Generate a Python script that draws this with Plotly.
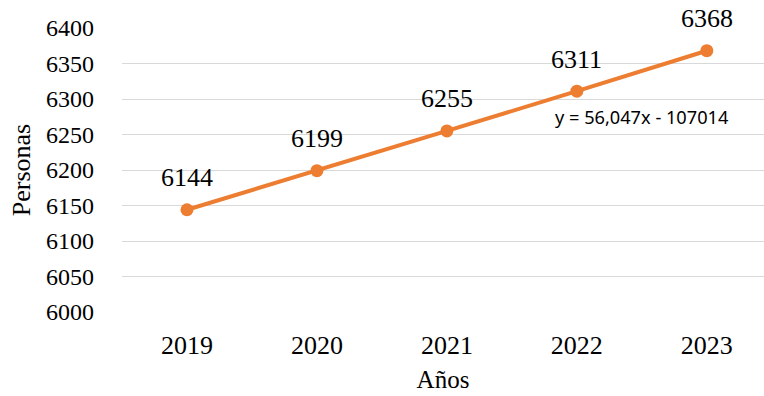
import plotly.graph_objects as go

# Población por año
years = ["2019", "2020", "2021", "2022", "2023"]
population = [6144, 6199, 6255, 6311, 6368]
y_ticks = [6000, 6050, 6100, 6150, 6200, 6250, 6300, 6350, 6400]
trend_label = "y = 56,047x - 107014"

ORANGE = "#ED7D31"
SERIF = "Times New Roman, Liberation Serif, serif"

fig = go.Figure()
fig.add_trace(go.Scatter(
    x=list(range(len(years))),
    y=population,
    mode="lines+markers",
    line=dict(color=ORANGE, width=4),
    marker=dict(color=ORANGE, size=13),
    hoverinfo="skip",
    showlegend=False,
))

# value labels above each point
for i, v in enumerate(population):
    fig.add_annotation(
        x=i, y=v, text=str(v), showarrow=False, yshift=32,
        font=dict(family=SERIF, size=26, color="#000000"),
    )

# trend line equation
fig.add_annotation(
    x=3.5, y=6274, text=trend_label, showarrow=False,
    font=dict(family="Noto Sans, Open Sans, sans-serif", size=18.2, color="#000000"),
)

fig.update_layout(
    width=764, height=396,
    margin=dict(l=122, r=0, t=28, b=84),
    plot_bgcolor="white", paper_bgcolor="white",
    xaxis=dict(
        tickmode="array",
        tickvals=list(range(len(years))),
        ticktext=years,
        range=[-0.5, 4.44],
        showgrid=False, zeroline=False, showline=False,
        ticks="", ticklabelstandoff=15,
        tickfont=dict(family=SERIF, size=26, color="#000000"),
        title=dict(text="Años", font=dict(family=SERIF, size=25, color="#000000"), standoff=11),
    ),
    yaxis=dict(
        tickmode="array",
        tickvals=y_ticks,
        range=[6000, 6400],
        showgrid=True, gridcolor="#D9D9D9", gridwidth=1.3,
        zeroline=False, showline=False,
        ticks="", ticklabelstandoff=27,
        tickfont=dict(family=SERIF, size=24, color="#000000"),
        title=dict(text="Personas", font=dict(family=SERIF, size=26, color="#000000"), standoff=7),
    ),
)

fig.write_html("out.html")
